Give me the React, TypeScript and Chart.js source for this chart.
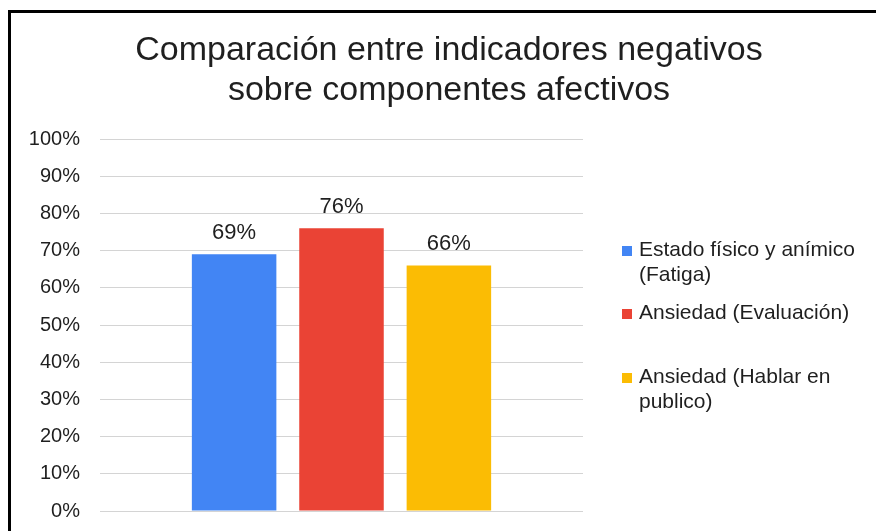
import React, { useEffect, useRef } from "react";
import { Chart, registerables } from "chart.js";

Chart.register(...registerables);

const FONT = '"Liberation Sans", Arial, Helvetica, sans-serif';

const titleLines = ["Comparación entre indicadores negativos", "sobre componentes afectivos"];
const categories = [""];
const seriesNames = [
  "Estado físico y anímico (Fatiga)",
  "Ansiedad (Evaluación)",
  "Ansiedad (Hablar en publico)",
];
const legendLines = [
  ["Estado físico y anímico", "(Fatiga)"],
  ["Ansiedad (Evaluación)"],
  ["Ansiedad (Hablar en", "publico)"],
];
const seriesValues = [0.69, 0.76, 0.66];
const seriesColors = ["#4285F4", "#EA4335", "#FBBC04"];
const yMin = 0;
const yMax = 1;
const yStep = 0.1;

const TEXT = "#1f1f1f";

const decor = {
  id: "decor",
  afterDatasetsDraw(chart: any) {
    const ctx = chart.ctx as CanvasRenderingContext2D;
    const area = chart.chartArea;
    ctx.save();
    ctx.fillStyle = TEXT;
    ctx.textBaseline = "alphabetic";

    // data labels
    ctx.font = `22px ${FONT}`;
    ctx.textAlign = "center";
    chart.data.datasets.forEach((ds: any, i: number) => {
      const meta = chart.getDatasetMeta(i);
      meta.data.forEach((el: any, j: number) => {
        const v = ds.data[j];
        ctx.fillText(`${Math.round(v * 100)}%`, el.x, el.y - 15);
      });
    });

    // title
    ctx.font = `34px ${FONT}`;
    titleLines.forEach((t, k) => ctx.fillText(t, 449, 60 + 40 * k));

    // legend
    ctx.font = `21px ${FONT}`;
    ctx.textAlign = "left";
    const baselines = [256, 319, 383];
    const sqX = area.right + 39;
    legendLines.forEach((lines, i) => {
      const b = baselines[i];
      ctx.fillStyle = seriesColors[i];
      ctx.fillRect(sqX, b - 10, 10, 10);
      ctx.fillStyle = TEXT;
      lines.forEach((ln, k) => ctx.fillText(ln, sqX + 17, b + 25 * k));
    });
    ctx.restore();
  },
};

function App() {
  const ref = useRef<HTMLCanvasElement | null>(null);

  useEffect(() => {
    if (!ref.current) return;
    const chart = new Chart(ref.current, {
      type: "bar",
      data: {
        labels: categories,
        datasets: seriesNames.map((name, i) => ({
          label: name,
          data: [seriesValues[i]],
          backgroundColor: seriesColors[i],
          borderWidth: 0,
          categoryPercentage: 0.667,
          barPercentage: 0.787,
        })),
      },
      options: {
        responsive: false,
        animation: false,
        layout: { padding: { left: 0, right: 293, top: 139, bottom: 20 } },
        plugins: {
          legend: { display: false },
          title: { display: false },
          tooltip: { enabled: false },
        },
        scales: {
          x: { display: false },
          y: {
            min: yMin,
            max: yMax,
            afterFit(scale: any) {
              scale.width = 100;
            },
            border: { display: false },
            grid: {
              color: "#d4d4d4",
              lineWidth: 1,
              drawTicks: true,
              tickLength: 20,
              tickColor: "rgba(0,0,0,0)",
            },
            ticks: {
              stepSize: yStep,
              padding: 0,
              color: TEXT,
              font: { family: FONT, size: 20 },
              callback: (v: any) => `${Math.round(Number(v) * 100)}%`,
            },
          },
        },
      },
      plugins: [decor],
    });
    return () => chart.destroy();
  }, []);

  return (
    <div
      style={{
        position: "fixed",
        left: 0,
        top: 0,
        width: 876,
        height: 531,
        overflow: "hidden",
        background: "#fff",
      }}
    >
      <div
        style={{
          position: "absolute",
          left: 8,
          top: 10,
          width: 900,
          height: 600,
          border: "3px solid #000",
        }}
      />
      <canvas
        ref={ref}
        width={876}
        height={531}
        style={{ position: "absolute", left: 0, top: 0, width: 876, height: 531 }}
      />
    </div>
  );
}

export default App;
